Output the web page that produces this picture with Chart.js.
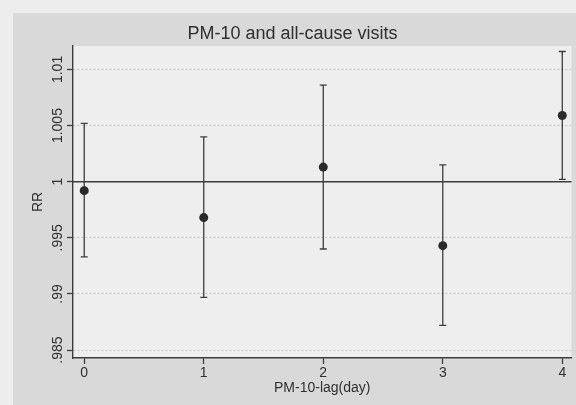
<!DOCTYPE html>
<html>
<head>
<meta charset="utf-8">
<title>PM-10 and all-cause visits</title>
<script src="https://cdn.jsdelivr.net/npm/chart.js@4/dist/chart.umd.min.js"></script>
<style>
  html, body { margin: 0; padding: 0; background: #ececec; }
  canvas { display: block; }
</style>
</head>
<body>
<canvas id="rrChart" width="576" height="405"></canvas>
<script>
// relative risk by lag day, with 95% CI
var lags = [0, 1, 2, 3, 4];
var rr = [0.9992, 0.9968, 1.0013, 0.9943, 1.0059];
var rrLower = [0.9933, 0.9897, 0.9940, 0.9872, 1.0002];
var rrUpper = [1.0052, 1.0040, 1.0086, 1.0015, 1.0116];

var yTicks = [0.985, 0.99, 0.995, 1, 1.005, 1.01];
var yTickLabels = ['.985', '.99', '.995', '1', '1.005', '1.01'];
var xTicks = [0, 1, 2, 3, 4];

var sFont = '"Liberation Sans", Arial, sans-serif';
var sInk = '#3c3c3c';
var sText = '#2f2f2f';

// panel backgrounds
var oBackground = {
    id: 'panelBackground',
    beforeDraw: function (chart) {
        var ctx = chart.ctx;
        var a = chart.chartArea;
        ctx.save();
        ctx.fillStyle = '#ededed';
        ctx.fillRect(0, 0, chart.width, chart.height);
        ctx.fillStyle = '#d9d9d9';
        ctx.fillRect(13, 13, chart.width - 13, chart.height - 13);
        ctx.fillStyle = '#eeeeee';
        ctx.fillRect(a.left, a.top, a.right - a.left, a.bottom - a.top);
        ctx.restore();
    }
};

// reference line at RR = 1 and the CI whiskers
var oErrorBars = {
    id: 'errorBars',
    beforeDatasetsDraw: function (chart) {
        var ctx = chart.ctx;
        var x = chart.scales.x;
        var y = chart.scales.y;
        var a = chart.chartArea;
        ctx.save();
        ctx.strokeStyle = sInk;
        ctx.lineWidth = 1.4;
        ctx.beginPath();
        ctx.moveTo(a.left, y.getPixelForValue(1));
        ctx.lineTo(a.right, y.getPixelForValue(1));
        ctx.stroke();

        ctx.lineWidth = 1.3;
        for (var i = 0; i < lags.length; i++) {
            var px = x.getPixelForValue(lags[i]);
            var yLo = y.getPixelForValue(rrLower[i]);
            var yHi = y.getPixelForValue(rrUpper[i]);
            ctx.beginPath();
            ctx.moveTo(px, yLo);
            ctx.lineTo(px, yHi);
            ctx.moveTo(px - 3.5, yLo);
            ctx.lineTo(px + 3.5, yLo);
            ctx.moveTo(px - 3.5, yHi);
            ctx.lineTo(px + 3.5, yHi);
            ctx.stroke();
        }
        ctx.restore();
    },
    afterDraw: function (chart) {
        // vertical tick labels and axis title on the y axis
        var ctx = chart.ctx;
        var y = chart.scales.y;
        ctx.save();
        ctx.fillStyle = sText;
        ctx.font = '14px ' + sFont;
        ctx.textAlign = 'center';
        ctx.textBaseline = 'middle';
        for (var i = 0; i < yTicks.length; i++) {
            ctx.save();
            ctx.translate(58, y.getPixelForValue(yTicks[i]));
            ctx.rotate(-Math.PI / 2);
            ctx.fillText(yTickLabels[i], 0, 0);
            ctx.restore();
        }
        ctx.translate(38, (chart.chartArea.top + chart.chartArea.bottom) / 2);
        ctx.rotate(-Math.PI / 2);
        ctx.fillText('RR', 0, 0);
        ctx.restore();
    }
};

var oChart = new Chart(document.getElementById('rrChart'), {
    type: 'scatter',
    data: {
        datasets: [{
            label: 'RR',
            data: lags.map(function (v, i) { return { x: v, y: rr[i] }; }),
            pointRadius: 4.5,
            pointHoverRadius: 4.5,
            backgroundColor: '#2a2a2a',
            borderWidth: 0
        }]
    },
    options: {
        responsive: false,
        animation: false,
        devicePixelRatio: 1,
        layout: { padding: { left: 10, top: 2, right: 1, bottom: 0 } },
        plugins: {
            legend: { display: false },
            tooltip: { enabled: false },
            title: {
                display: true,
                text: 'PM-10 and all-cause visits',
                color: sText,
                font: { family: sFont, size: 18, weight: 'normal' },
                padding: { top: 21, bottom: 1.4 }
            }
        },
        scales: {
            x: {
                type: 'linear',
                min: -0.094,
                max: 4.077,
                afterBuildTicks: function (scale) {
                    scale.ticks = xTicks.map(function (v) { return { value: v }; });
                },
                afterFit: function (scale) { scale.height = 47; },
                grid: { drawOnChartArea: false, drawTicks: true, tickLength: 6, tickColor: sInk, tickWidth: 1.3 },
                border: { display: true, color: sInk, width: 1.4 },
                ticks: {
                    color: sText,
                    font: { family: sFont, size: 14 },
                    padding: 1,
                    maxRotation: 0,
                    callback: function (v) { return String(v); }
                },
                title: {
                    display: true,
                    text: 'PM-10-lag(day)',
                    color: sText,
                    font: { family: sFont, size: 14 },
                    padding: { top: 0, bottom: 8.6 }
                }
            },
            y: {
                type: 'linear',
                min: 0.98429,
                max: 1.01209,
                afterBuildTicks: function (scale) {
                    scale.ticks = yTicks.map(function (v) { return { value: v }; });
                },
                afterFit: function (scale) { scale.width = 63; },
                grid: { color: '#c6c6c6', lineWidth: 1, drawTicks: true, tickLength: 6, tickColor: sInk, tickWidth: 1.3 },
                border: { display: true, color: sInk, width: 1.4, dash: [2, 2] },
                ticks: { display: false }
            }
        }
    },
    plugins: [oBackground, oErrorBars]
});
</script>
</body>
</html>
